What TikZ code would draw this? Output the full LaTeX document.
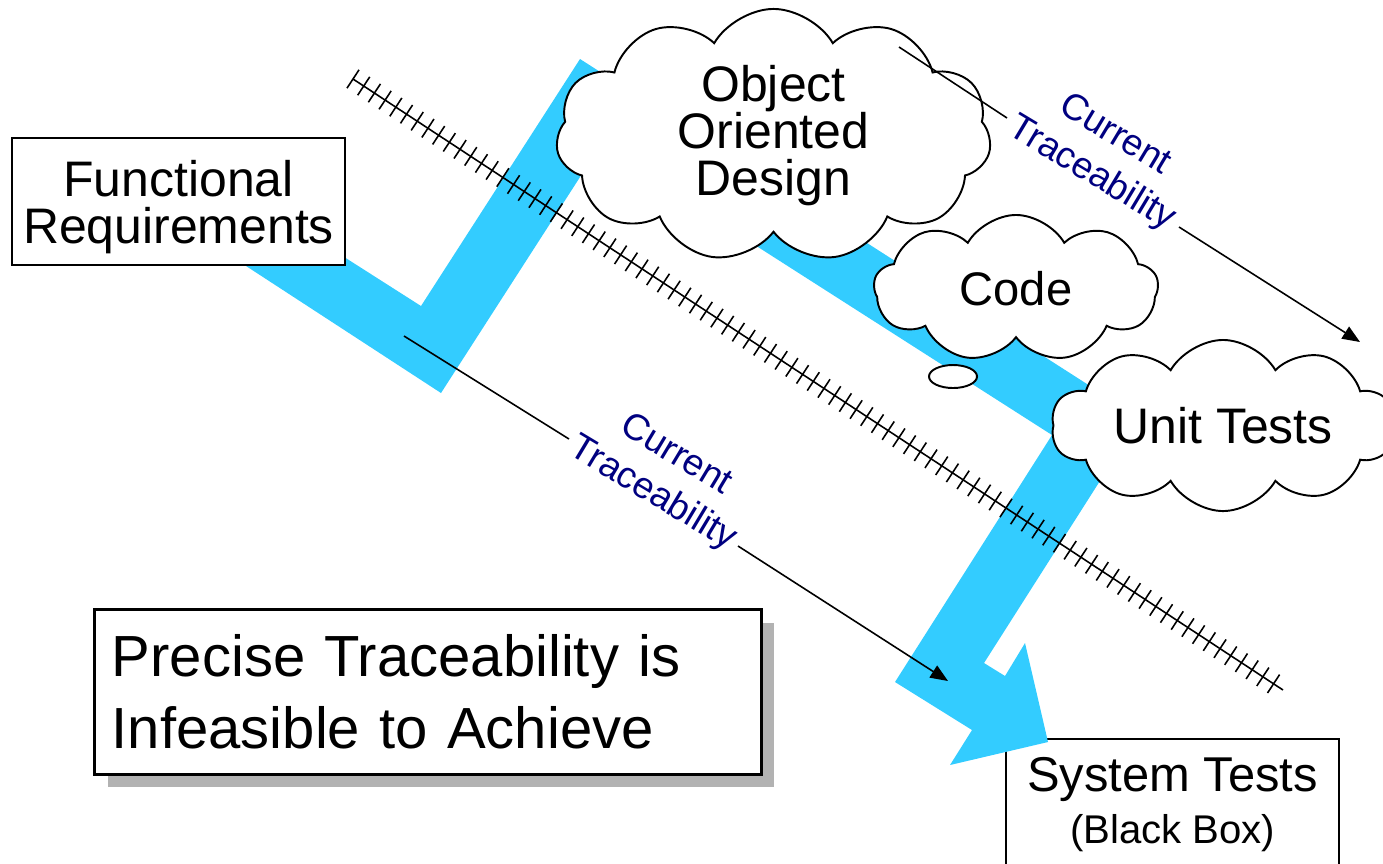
\documentclass[tikz,border=0pt]{standalone}
\usepackage{fontspec}
\setmainfont{Liberation Sans}
\usepackage{xcolor}
\usepackage{tikz}
\usetikzlibrary{shapes.symbols,shapes.geometric,shadows,decorations.pathreplacing,arrows.meta}
\definecolor{bandblue}{HTML}{33CCFF}
\definecolor{tracenavy}{HTML}{000080}
\definecolor{shadowgray}{HTML}{B2B2B2}

\begin{document}
\begin{tikzpicture}[x=0.01cm,y=-0.01cm]
        \tikzstyle{every node}=[inner sep=0pt]
        \tikzstyle{plainbox}=[draw,fill=white,line width=0.5pt,align=center]
        \tikzstyle{thought}=[cloud,draw,fill=white,line width=0.55pt,cloud ignores aspect,cloud puff arc=120,align=center,font=\fontsize{14.2}{13.4}\selectfont]
        \tikzstyle{trace}=[line width=0.45pt,-{Triangle[length=5pt,width=4pt]}]
        \tikzstyle{tracetext}=[text=tracenavy,align=center,rotate=-31,font=\fontsize{10.5}{12.8}\selectfont]
        \useasboundingbox (0,0) rectangle (1383,863);
        \clip (0,0) rectangle (1383,863);

        % system tests box sits under the arrow head
        \node[plainbox,minimum width=3.33cm,minimum height=1.32cm,font=\fontsize{13.9}{14.8}\selectfont] (systest) at (1172.5,805)
            {System Tests\\{\fontsize{11.4}{14.8}\selectfont (Black Box)}};

        % the blue development path
        \fill[bandblue] (250,197) -- (421,306) -- (580,59) -- (1140,418) -- (984,663) -- (1005,676)
            -- (1025,643) -- (1048,742) -- (950,765) -- (972,730) -- (895,682) -- (1052,435)
            -- (600,146) -- (441,393) -- (200,236) -- cycle;

        % hatched barrier
        \coordinate (hatchA) at (353,79);
        \coordinate (hatchB) at (1283,690);
        \draw[line width=0.45pt] (hatchA) -- (hatchB);
        \draw[line width=0.45pt,decorate,decoration={ticks,segment length=0.128cm,amplitude=0.11cm}] (hatchA) -- (hatchB);

        \node[plainbox,minimum width=3.33cm,minimum height=1.27cm,text depth=0pt,font=\fontsize{14.2}{13.4}\selectfont] (funcreq) at (178.5,201.5)
            {Functional\\Requirements};

        \node[thought,cloud puffs=11,minimum width=4.35cm,minimum height=2.53cm] (design) at (773.5,135.5)
            {Object\\Oriented\\Design};
        \node[thought,cloud puffs=9,minimum width=2.84cm,minimum height=1.47cm,font=\fontsize{13.4}{13.4}\selectfont] (code) at (1016,288.5) {Code};
        \node[ellipse,draw,fill=white,line width=0.55pt,minimum width=0.48cm,minimum height=0.23cm] (bubble) at (953,376.5) {};
        \node[thought,cloud puffs=10,minimum width=3.43cm,minimum height=1.71cm] (unittest) at (1223,425.5) {Unit Tests};

        \node[plainbox,line width=0.85pt,align=left,text width=6.32cm,inner xsep=0.17cm,minimum height=1.64cm,
            drop shadow={shadow xshift=0.13cm,shadow yshift=-0.13cm,fill=shadowgray,opacity=1},
            font=\fontsize{16.5}{20.5}\selectfont] (precise) at (428,692)
            {Precise Traceability is\\Infeasible to Achieve};

        % current traceability arrows
        \coordinate (upA) at (899,47);
        \coordinate (upB) at (1007,118);
        \coordinate (upC) at (1179,227);
        \coordinate (upD) at (1360,342);
        \draw[trace] (upA) -- (upB) (upC) -- (upD);
        \node[tracetext] (uptext) at (1103,155) {Current\\Traceability};

        \coordinate (lowA) at (404,336);
        \coordinate (lowB) at (569,439);
        \coordinate (lowC) at (738,546);
        \coordinate (lowD) at (948,681);
        \draw[trace] (lowA) -- (lowB) (lowC) -- (lowD);
        \node[tracetext] (lowtext) at (664,475) {Current\\Traceability};
    \end{tikzpicture}
\end{document}
